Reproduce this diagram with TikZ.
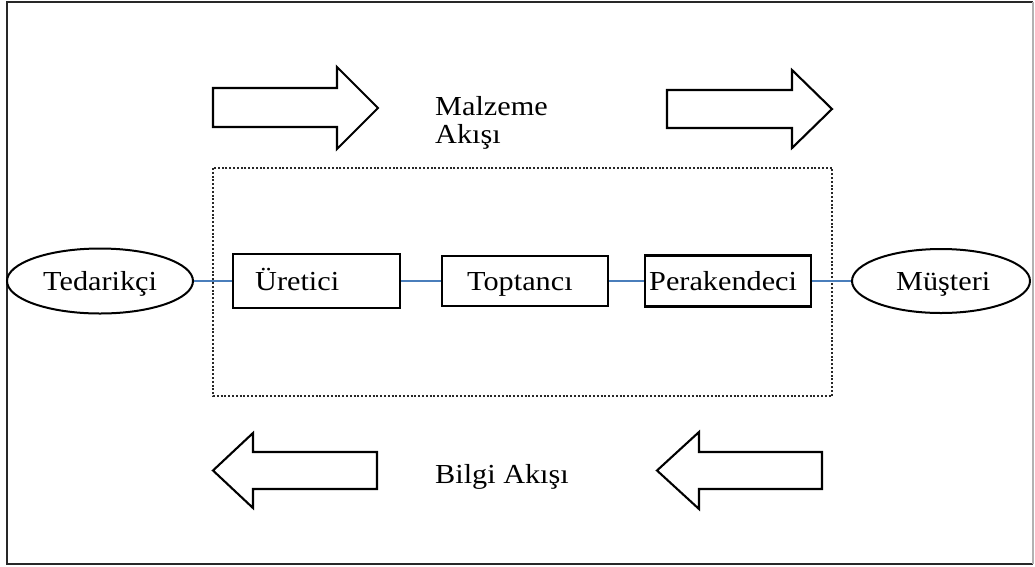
\documentclass[tikz,border=0pt]{standalone}
\usepackage{fontspec}
\setmainfont{Liberation Serif}[FakeStretch=1.1]
\usetikzlibrary{shapes.geometric}
\definecolor{linkblue}{RGB}{74,126,187}
\definecolor{frameclr}{RGB}{40,40,40}
\tikzset{
  stagebox/.style={draw=black, line width=2.6pt, rectangle, inner sep=0pt},
  endell/.style={draw=black, line width=2pt, ellipse, inner sep=0pt},
  blockarrow/.style={draw=black, line width=2.1pt, line join=miter, fill=white},
  link/.style={draw=linkblue, line width=1.3pt},
  lbl/.style={anchor=base west, inner sep=0pt, font=\fontsize{27.5}{35}\selectfont},
  dottedbox/.style={draw=frameclr, line width=2.2pt, dash pattern=on 2pt off 1.8pt}
}
\begin{document}
\begin{tikzpicture}[x=1pt,y=-1pt]
\useasboundingbox (0,0) rectangle (1035,566);
% outer frame
\draw[frameclr, line width=2.6pt] (1033,2) -- (7,2) -- (7,564) -- (1033,564);
\draw[gray!60, line width=1.2pt] (1033,2) -- (1033,564);
% dotted system boundary
\draw[dottedbox] (213,168) rectangle (832,396);
% block arrows
\draw[blockarrow] (213,88) -- (337,88) -- (337,67) -- (378,108) -- (337,149) -- (337,127) -- (213,127) -- cycle;
\draw[blockarrow] (667,90) -- (792,90) -- (792,70) -- (832,109) -- (792,148) -- (792,128) -- (667,128) -- cycle;
\draw[blockarrow] (377,452) -- (253,452) -- (253,433) -- (213,470.5) -- (253,508) -- (253,489) -- (377,489) -- cycle;
\draw[blockarrow] (822,452) -- (699,452) -- (699,432) -- (657,470.5) -- (699,509) -- (699,489) -- (822,489) -- cycle;
% flow labels
\node[lbl] (malz) at (435,115) {Malzeme};
\node[lbl] (akis) at (435,143) {Akışı};
\node[lbl] (bilgi) at (435,483) {Bilgi Akışı};
% chain nodes
\node[endell, minimum width=186, minimum height=65] (ted) at (100,281) {};
\node[stagebox, minimum width=167, minimum height=54] (ure) at (316.5,281) {};
\node[stagebox, minimum width=166, minimum height=50] (top) at (525,281) {};
\node[stagebox, minimum width=166, minimum height=51] (per) at (728,281) {};
\node[endell, minimum width=178, minimum height=64] (mus) at (941,281) {};
% node texts
\node[lbl] (tedt) at (43,290) {Tedarikçi};
\node[lbl] (uret) at (255,290) {Üretici};
\node[lbl] (topt) at (467,290) {Toptancı};
\node[lbl] (pert) at (649,290) {Perakendeci};
\node[lbl] (must) at (896,290) {Müşteri};
% connectors
\draw[link] (ted.east) -- (ure.west);
\draw[link] (ure.east) -- (top.west);
\draw[link] (top.east) -- (per.west);
\draw[link] (per.east) -- (mus.west);
\end{tikzpicture}
\end{document}
